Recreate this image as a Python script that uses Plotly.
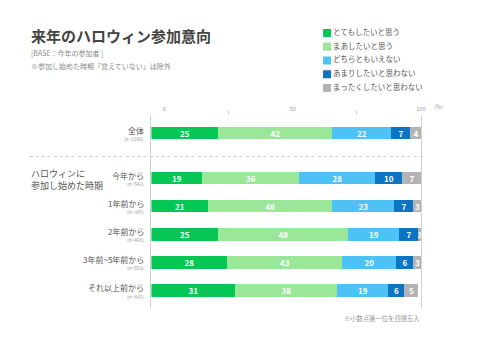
import plotly.graph_objects as go

W, H = 480, 346
FONT = "Noto Sans CJK JP, Noto Sans, sans-serif"

# ---- data ----
categories = ["全体", "今年から", "1年前から", "2年前から", "3年前~5年前から", "それ以上前から"]
sample_sizes = [2386, 542, 349, 400, 653, 442]
series_names = ["とてもしたいと思う", "まあしたいと思う", "どちらともいえない",
                "あまりしたいと思わない", "まったくしたいと思わない"]
very_much = [25, 19, 21, 25, 28, 31]
somewhat = [42, 36, 46, 48, 43, 38]
neutral = [22, 28, 23, 19, 20, 19]
not_really = [7, 10, 7, 7, 6, 6]
not_at_all = [4, 7, 3, 1, 3, 5]
series_values = [very_much, somewhat, neutral, not_really, not_at_all]
series_colors = ["#06C755", "#9BE799", "#4EC2F4", "#0B74C3", "#B4B4B4"]
x_tick_vals = [0, 50, 100]
x_minor_vals = [25, 75]

# row positions on the category axis (extra gap after the overall row)
row_pos = [0, 1.6, 2.6, 3.6, 4.6, 5.6]


def px(x):
    return x / W


def py(y):
    return 1 - y / H


fig = go.Figure()

for name, vals, color in zip(series_names, series_values, series_colors):
    fig.add_trace(go.Bar(
        y=row_pos, x=vals, orientation="h", name=name,
        marker=dict(color=color, line=dict(width=0)),
        width=0.45,
        text=vals, textposition="inside", insidetextanchor="middle",
        textangle=0,
        textfont=dict(color="white", size=8, family=FONT, weight="bold"),
        showlegend=False, hoverinfo="skip",
    ))

# scale labels along the top
fig.add_trace(go.Scatter(x=[None], y=[None], xaxis="x2", yaxis="y",
                         showlegend=False, hoverinfo="skip"))

# legend block
fig.add_trace(go.Scatter(
    x=[0] * len(series_names), y=list(range(len(series_names))),
    xaxis="x3", yaxis="y3", mode="markers+text",
    marker=dict(symbol="square", size=8, color=series_colors, line=dict(width=0)),
    text=series_names, textposition="middle right",
    textfont=dict(size=7.5, color="#555555", family=FONT),
    cliponaxis=False, showlegend=False, hoverinfo="skip",
))

plot_x = [px(153), px(425.5)]
plot_y = [py(308), py(115)]

annotations = [
    dict(text="<b>来年のハロウィン参加意向</b>", x=px(29), y=py(35), xref="paper", yref="paper",
         xanchor="left", yanchor="middle", showarrow=False,
         font=dict(size=15, color="#444444", family=FONT)),
    dict(text="[BASE：今年の参加者 ]", x=px(29), y=py(53), xref="paper", yref="paper",
         xanchor="left", yanchor="middle", showarrow=False,
         font=dict(size=7, color="#8a8a8a", family=FONT)),
    dict(text="※参加し始めた時期「覚えていない」は除外", x=px(29), y=py(66), xref="paper", yref="paper",
         xanchor="left", yanchor="middle", showarrow=False,
         font=dict(size=7, color="#8a8a8a", family=FONT)),
    dict(text="ハロウィンに<br>参加し始めた時期", x=px(29), y=py(179), xref="paper", yref="paper",
         xanchor="left", yanchor="middle", align="left", showarrow=False,
         font=dict(size=9, color="#555555", family=FONT)),
    dict(text="(%)", x=px(437), y=py(107), xref="paper", yref="paper",
         xanchor="left", yanchor="middle", showarrow=False,
         font=dict(size=5.5, color="#999999", family=FONT)),
    dict(text="※小数点第一位を四捨五入", x=px(426), y=py(318), xref="paper", yref="paper",
         xanchor="right", yanchor="middle", showarrow=False,
         font=dict(size=6.3, color="#999999", family=FONT)),
]

for pos, cat, n in zip(row_pos, categories, sample_sizes):
    annotations.append(dict(text=cat, x=px(148), y=pos, xref="paper", yref="y",
                            xanchor="right", yanchor="middle", yshift=3, showarrow=False,
                            font=dict(size=8, color="#555555", family=FONT)))
    annotations.append(dict(text=f"(n={n})", x=px(148), y=pos, xref="paper", yref="y",
                            xanchor="right", yanchor="middle", yshift=-5.5, showarrow=False,
                            font=dict(size=4.8, color="#999999", family=FONT)))

fig.update_layout(
    width=W, height=H,
    margin=dict(l=0, r=0, t=0, b=0),
    paper_bgcolor="white", plot_bgcolor="white",
    barmode="stack",
    bargap=0,
    uniformtext=dict(mode="show", minsize=8),
    font=dict(family=FONT, color="#555555"),
    xaxis=dict(domain=plot_x, range=[0, 100], visible=False, fixedrange=True),
    xaxis2=dict(overlaying="x", side="top", anchor="y",
                range=[-5.02, 100], tickvals=x_tick_vals,
                ticktext=[str(v) for v in x_tick_vals], ticks="",
                ticklabelstandoff=2,
                tickfont=dict(size=5.5, color="#999999", family=FONT),
                showline=False, showgrid=False, zeroline=False,
                minor=dict(tickvals=x_minor_vals, ticks="outside", ticklen=3,
                           tickcolor="#c8c8c8", tickwidth=1),
                fixedrange=True),
    yaxis=dict(domain=plot_y, range=[6.22, -0.64], showticklabels=False,
               ticks="", showgrid=False, zeroline=False,
               showline=True, mirror=True, linecolor="#d0d0d0", linewidth=1,
               fixedrange=True),
    xaxis3=dict(domain=[px(300), 1], range=[-30.5, 149.5], visible=False,
                anchor="y3", fixedrange=True),
    yaxis3=dict(domain=[py(100), py(20)], range=[4.873, -0.945], visible=False,
                anchor="x3", fixedrange=True),
    shapes=[dict(type="line", xref="paper", yref="paper",
                 x0=px(30), x1=px(425.5), y0=py(156.5), y1=py(156.5),
                 line=dict(color="#cccccc", width=1, dash="3px,3px"))],
    annotations=annotations,
)

fig.write_html("out.html")
